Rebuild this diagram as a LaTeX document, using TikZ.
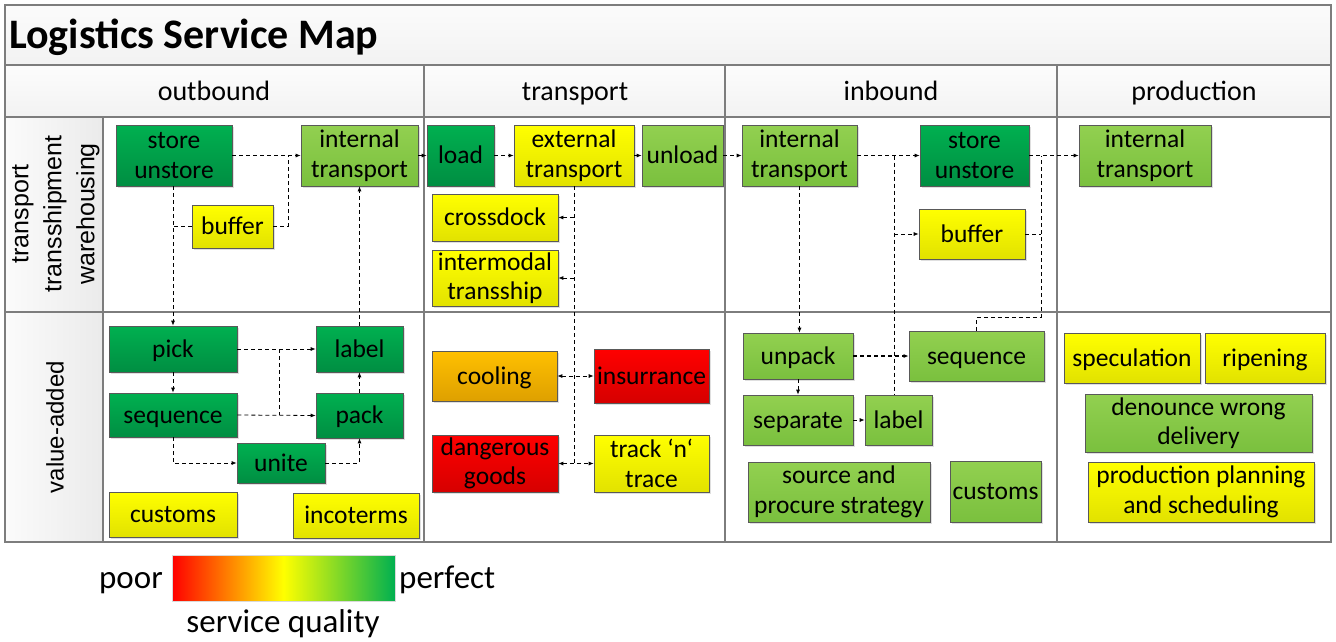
\documentclass[tikz,border=0pt]{standalone}
\usepackage{fontspec}
\setmainfont{Carlito}
\newfontfamily\arialf{Liberation Sans}
\usetikzlibrary{arrows.meta,shadows}
\definecolor{dgreen}{RGB}{0,176,80}
\definecolor{dgreenb}{RGB}{0,142,66}
\definecolor{lgreen}{RGB}{146,208,80}
\definecolor{lgreenb}{RGB}{122,192,62}
\definecolor{yel}{RGB}{255,255,0}
\definecolor{yelb}{RGB}{226,226,0}
\definecolor{redt}{RGB}{255,0,0}
\definecolor{redb}{RGB}{214,0,0}
\definecolor{orgt}{RGB}{255,192,0}
\definecolor{orgb}{RGB}{222,160,0}
\definecolor{gridc}{RGB}{125,125,125}
\begin{document}
\begin{tikzpicture}[x=1pt,y=-1pt,
  box/.style={draw=black!65, line width=0.7pt, align=center, inner sep=0pt,
    font=\fontsize{25.5}{29.5}\selectfont,
    drop shadow={shadow xshift=1.5pt, shadow yshift=-1.5pt, opacity=0.25}},
  one/.style={text height=20pt, text depth=4pt},
  dg/.style={box, top color=dgreen, bottom color=dgreenb},
  lg/.style={box, top color=lgreen, bottom color=lgreenb},
  yw/.style={box, top color=yel, bottom color=yelb},
  rd/.style={box, top color=redt, bottom color=redb},
  og/.style={box, top color=orgt, bottom color=orgb},
  conn/.style={draw=black, line width=0.8pt, dash pattern=on 4pt off 3pt},
  arr/.style={conn, -{Latex[length=5pt,width=4pt]}},
  barr/.style={conn, {Latex[length=5pt,width=4pt]}-{Latex[length=5pt,width=4pt]}},
  head/.style={font=\fontsize{28}{28}\selectfont, anchor=base, inner sep=0pt},
  leg/.style={font=\fontsize{33}{33}\selectfont, inner sep=0pt},
  grid/.style={draw=gridc, line width=1.2pt}
]
\useasboundingbox (0,0) rectangle (1336,641);
% backgrounds
\fill[white] (5,5) rectangle (1331,542);
\fill[top color=gray!3, bottom color=gray!10] (5,5) rectangle (1331,65);
\fill[top color=gray!2, bottom color=gray!10] (5,65) rectangle (1331,117);
\fill[left color=gray!3, right color=gray!16] (5,117) rectangle (103,542);
% grid
\draw[grid] (5,5) rectangle (1331,542);
\draw[grid] (5,65) -- (1331,65);
\draw[grid] (5,117) -- (1331,117);
\draw[grid] (5,312) -- (1331,312);
\draw[grid] (103,117) -- (103,542);
\draw[grid] (424,65) -- (424,542);
\draw[grid] (725,65) -- (725,542);
\draw[grid] (1057,65) -- (1057,542);
% title and headers
\node[anchor=west, font=\fontsize{42}{42}\selectfont\bfseries, inner sep=0pt] (title) at (9,37) {Logistics Service Map};
\node[head] (hout) at (214,100) {outbound};
\node[head] (htr) at (575,100) {transport};
\node[head] (hin) at (891,100) {inbound};
\node[head] (hpr) at (1194,100) {production};
\node[rotate=90, align=center, font=\arialf\fontsize{25}{33}\selectfont] (rl1) at (56,214) {transport\\transshipment\\warehousing};
\node[rotate=90, font=\arialf\fontsize{24}{24}\selectfont] (rl2) at (55,427) {value-added};
% outbound
\node[dg, minimum width=116pt, minimum height=61pt] (os) at (174,155.5) {store\\unstore};
\node[lg, minimum width=117pt, minimum height=61pt] (oit) at (359.5,155.5) {internal\\transport};
\node[yw, one, minimum width=81pt, minimum height=43pt] (ob) at (232.5,226.5) {buffer};
\node[dg, one, minimum width=128pt, minimum height=46pt] (opick) at (173,349) {pick};
\node[dg, one, minimum width=87pt, minimum height=46pt] (olabel) at (359.5,349) {label};
\node[dg, one, minimum width=128pt, minimum height=44pt] (oseq) at (173,415) {sequence};
\node[dg, one, minimum width=87pt, minimum height=45pt] (opack) at (359.5,415.5) {pack};
\node[dg, one, minimum width=88pt, minimum height=40pt] (ounite) at (281,463) {unite};
\node[yw, one, minimum width=128pt, minimum height=45pt] (ocust) at (173,514.5) {customs};
\node[yw, one, minimum width=126pt, minimum height=45pt] (oinco) at (356,515.5) {incoterms};
% transport
\node[dg, one, minimum width=67pt, minimum height=61pt] (tload) at (460.5,155.5) {load};
\node[yw, minimum width=120pt, minimum height=61pt] (text) at (574,155.5) {external\\transport};
\node[lg, one, minimum width=81pt, minimum height=61pt] (tunload) at (682.5,155.5) {unload};
\node[yw, one, minimum width=126pt, minimum height=47pt] (tcross) at (495,217.5) {crossdock};
\node[yw, minimum width=126pt, minimum height=56pt] (tinter) at (495,278) {intermodal\\transship};
\node[og, one, minimum width=125pt, minimum height=50pt] (tcool) at (494.5,376) {cooling};
\node[rd, one, minimum width=115pt, minimum height=54pt] (tins) at (651.5,376) {insurrance};
\node[rd, minimum width=126pt, minimum height=57pt] (tdang) at (495,463.5) {dangerous\\goods};
\node[yw, minimum width=115pt, minimum height=57pt] (ttrack) at (651.5,463.5) {track ‘n‘\\trace};
% inbound
\node[lg, minimum width=115pt, minimum height=61pt] (iit) at (799.5,155.5) {internal\\transport};
\node[dg, minimum width=109pt, minimum height=61pt] (istore) at (974.5,155.5) {store\\unstore};
\node[yw, one, minimum width=106pt, minimum height=50pt] (ibuf) at (972,234) {buffer};
\node[lg, one, minimum width=110pt, minimum height=46pt] (iunpack) at (798,356) {unpack};
\node[lg, one, minimum width=135pt, minimum height=50pt] (iseq) at (976.5,356) {sequence};
\node[lg, one, minimum width=110pt, minimum height=50pt] (isep) at (798,420) {separate};
\node[lg, one, minimum width=67pt, minimum height=50pt] (ilabel) at (898.5,420) {label};
\node[lg, minimum width=182pt, minimum height=60pt] (isource) at (839,492) {source and\\procure strategy};
\node[lg, one, minimum width=91pt, minimum height=61pt] (icust) at (995.5,491.5) {customs};
% production
\node[lg, minimum width=132pt, minimum height=61pt] (pit) at (1145,155.5) {internal\\transport};
\node[yw, one, minimum width=136pt, minimum height=50pt] (pspec) at (1132,358) {speculation};
\node[yw, one, minimum width=120pt, minimum height=50pt] (pripe) at (1265,358) {ripening};
\node[lg, minimum width=227pt, minimum height=58pt] (pden) at (1198.5,423) {denounce wrong\\delivery};
\node[yw, minimum width=226pt, minimum height=60pt] (pplan) at (1201,492) {production planning\\and scheduling};
% junction coordinates
\coordinate (jb) at (288,155.5);
\coordinate (jx) at (279,349);
\coordinate (tj) at (574,463.5);
\coordinate (ij) at (894,155.5);
\coordinate (ik) at (1041,155.5);
\coordinate (ik2) at (1041,317);
% outbound connectors
\draw[arr] (os.east) -- (oit.west);
\draw[conn] (ob.east) -| (jb);
\draw[arr] (opick.north |- os.south) -- (opick.north);
\draw[conn] (ob.west) -- (ob.west -| opick.north);
\draw[arr] (olabel.north) -- (oit.south);
\draw[arr] (opick.east) -- (olabel.west);
\draw[arr] (oseq.east) -- (opack.west);
\draw[conn] (jx) -- (jx |- oseq.east);
\draw[arr] (opick.south) -- (oseq.north);
\draw[arr] (oseq.south) |- (ounite.west);
\draw[arr] (ounite.east) -| (opack.south);
\draw[arr] (opack.north) -- (olabel.south);
% transport connectors
\draw[arr] (oit.east) -- (tload.west);
\draw[arr] (tload.east) -- (text.west);
\draw[arr] (text.east) -- (tunload.west);
\draw[arr] (tunload.east) -- (iit.west);
\draw[conn] (text.south) -- (tj);
\draw[arr] (tcross.east -| text.south) -- (tcross.east);
\draw[arr] (tinter.east -| text.south) -- (tinter.east);
\draw[barr] (tcool.east) -- (tins.west);
\draw[barr] (tdang.east) -- (ttrack.west);
% inbound connectors
\draw[arr] (iit.east) -- (istore.west);
\draw[conn] (ij) -- (ij |- ilabel.north);
\draw[arr] (ibuf.west -| ij) -- (ibuf.west);
\draw[arr] (iit.south) -- (iit.south |- iunpack.north);
\draw[arr, line width=1.3pt] (iunpack.east) -- (iseq.west);
\draw[arr] (iunpack.south) -- (isep.north);
\draw[arr] (isep.east) -- (ilabel.west);
\draw[arr] (istore.east) -- (pit.west);
\draw[conn] (ibuf.east) -- (ibuf.east -| ik);
\draw[conn] (iseq.north) |- (ik2) -- (ik);
% legend
\node[minimum width=223pt, minimum height=46pt, inner sep=0pt, draw=white!85!black, line width=0.5pt,
  left color=redt, right color=dgreen, middle color=yel] (bar) at (283.5,578) {};
\node[leg, anchor=base east] (poor) at (163,588) {poor};
\node[leg, anchor=base west] (perf) at (399,588) {perfect};
\node[leg, anchor=base] (sq) at (283,632) {service quality};
\end{tikzpicture}
\end{document}
